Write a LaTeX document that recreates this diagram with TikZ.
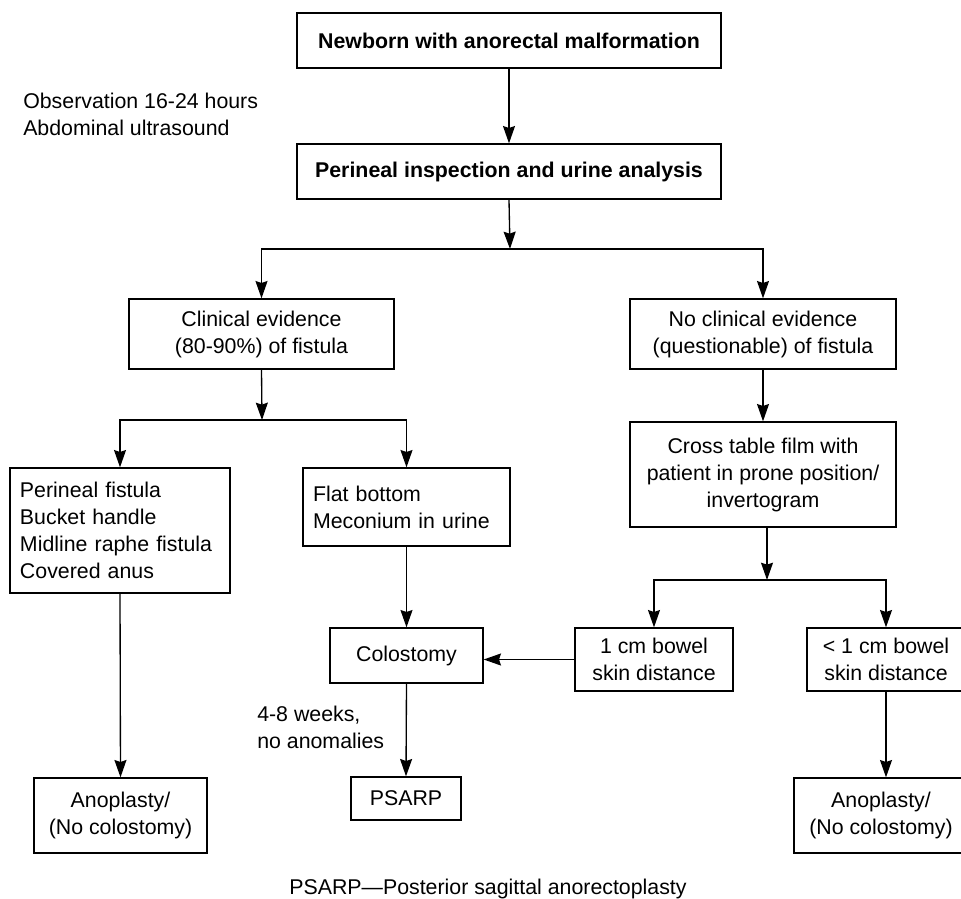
\documentclass[tikz,border=0pt]{standalone}
\usepackage{fontspec}
\setmainfont{Liberation Sans}
\usetikzlibrary{arrows.meta,calc}
\begin{document}
\begin{tikzpicture}[x=0.75pt,y=-0.75pt,
  every node/.style={font=\fontsize{16}{20.25}\selectfont},
  box/.style={draw,line width=1pt,inner sep=0pt,align=center},
  lbox/.style={draw,line width=1pt,inner xsep=10pt*0.75,inner ysep=0pt,align=left},
  arr/.style={line width=1pt,-{Stealth[length=13pt,width=9pt,inset=1.5pt]}},
  ln/.style={line width=1pt}]
\useasboundingbox (0,0) rectangle (961,899);
% boxes
\node[box,minimum width=424*0.75pt,minimum height=55*0.75pt] (b1) at (509,40.5) {\textbf{Newborn with anorectal malformation}};
\node[box,minimum width=424*0.75pt,minimum height=55*0.75pt] (b2) at (509,171.5) {\textbf{Perineal inspection and urine analysis}};
\node[anchor=west,align=left,inner sep=0pt] (obs) at (23,114.5) {Observation 16-24 hours\\Abdominal ultrasound};
\node[box,minimum width=265*0.75pt,minimum height=70*0.75pt] (c1) at (261.5,334) {Clinical evidence\\(80-90\%) of fistula};
\node[box,minimum width=266*0.75pt,minimum height=70*0.75pt] (c2) at (763,334) {No clinical evidence\\(questionable) of fistula};
\node[lbox,text width=200*0.75pt,minimum height=125*0.75pt] (d1) at (120,530.5) {Perineal fistula\\Bucket handle\\Midline raphe fistula\\Covered anus};
\node[lbox,text width=187*0.75pt,minimum height=78*0.75pt] (d2) at (406.5,507) {Flat bottom\\Meconium in urine};
\node[box,minimum width=266*0.75pt,minimum height=105*0.75pt] (e) at (763,474.5) {Cross table film with\\patient in prone position/\\invertogram};
\node[box,minimum width=158*0.75pt,minimum height=63*0.75pt] (f1) at (654,659.5) {1 cm bowel\\skin distance};
\node[box,minimum width=158*0.75pt,minimum height=63*0.75pt] (f2) at (886,659.5) {< 1 cm bowel\\skin distance};
\node[box,minimum width=153*0.75pt,minimum height=55*0.75pt] (g) at (406.5,655.5) {Colostomy};
\node[box,minimum width=110*0.75pt,minimum height=43*0.75pt] (h) at (406,798.5) {PSARP};
\node[anchor=west,align=left,inner sep=0pt] (wk) at (257,727) {4-8 weeks,\\no anomalies};
\node[box,minimum width=173*0.75pt,minimum height=75*0.75pt] (i1) at (120.5,815.5) {Anoplasty/\\(No colostomy)};
\node[box,minimum width=174*0.75pt,minimum height=75*0.75pt] (i2) at (881,815.5) {Anoplasty/\\(No colostomy)};
\node[inner sep=0pt] (cap) at (488,889) {PSARP---Posterior sagittal anorectoplasty};
% coordinates for forks
\coordinate (k1) at (510,249);
\coordinate (k2) at (262,420);
\coordinate (k3) at (767,580);
% connectors
\draw[arr] (b1) -- (b2);
\draw[arr] (b2.south) -- (k1);
\draw[arr] (k1) -| (c1.north);
\draw[arr] (k1) -| (c2.north);
\draw[arr] (c1.south) -- (k2);
\draw[arr] (k2) -| (d1.north);
\draw[arr] (k2) -| (d2.north);
\draw[arr] (c2.south) -- (e.north);
\draw[arr] (e.south -| k3) -- (k3);
\draw[arr] (k3) -| (f1.north);
\draw[arr] (k3) -| (f2.north);
\draw[arr] (f1.west) -- (f1.west -| g.east);
\draw[arr] (d2.south) -- (g.north);
\draw[arr] (g.south) -- (h.north);
\draw[arr] (d1.south) -- (i1.north);
\draw[arr] (f2.south) -- (f2.south |- i2.north);
\end{tikzpicture}
\end{document}
